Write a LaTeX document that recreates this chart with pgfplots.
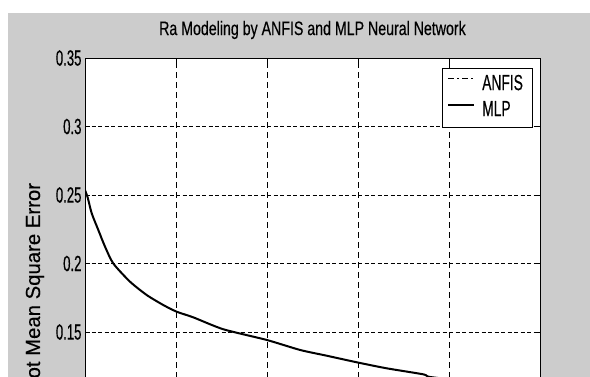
\documentclass[border=0pt]{standalone}
\usepackage{fontspec}
\setmainfont{Liberation Sans}[FakeBold=0.3]
\newfontfamily\titlefont{Liberation Sans}[FakeStretch=0.73, FakeBold=0.4]
\newfontfamily\tickfont{Liberation Sans}[FakeStretch=0.6, FakeBold=0.4]
\newfontfamily\legfont{Liberation Sans}[FakeStretch=0.63, FakeBold=0.4]
\usepackage{pgfplots}
\pgfplotsset{compat=1.18}
\definecolor{figgray}{RGB}{204,204,204}

\begin{document}
\begin{tikzpicture}
% figure window: white margin, grey figure background
\useasboundingbox (0,0) rectangle (590bp,-377bp);
\clip (0,0) rectangle (590bp,-377bp);
\fill[white] (0,0) rectangle (590bp,-377bp);
\fill[figgray] (8bp,-13bp) rectangle (590bp,-377bp);
\begin{axis}[
  at={(85bp,-537.5bp)}, anchor=south west,
  scale only axis, width=455bp, height=479.5bp,
  xmin=0, xmax=500, ymin=0, ymax=0.35,
  xtick={0,100,200,300,400,500},
  xticklabels={},
  ytick={0,0.05,0.1,0.15,0.2,0.25,0.3,0.35},
  yticklabels={,,,0.15,0.2,0.25,0.3,0.35},
  axis background/.style={fill=white},
  axis line style={black, line width=0.8bp},
  tick align=inside, tick pos=both, major tick length=5bp,
  tick style={black, line width=0.8bp},
  grid=major,
  x grid style={black, line width=0.8bp, dash pattern=on 6bp off 4bp},
  y grid style={black, line width=0.8bp, dash pattern=on 4bp off 2.5bp},
  ticklabel style={font=\tickfont\fontsize{22}{22}\selectfont},
  title={Ra Modeling by ANFIS and MLP Neural Network},
  title style={font=\titlefont\fontsize{19.5}{20}\selectfont,
    at={(0.5,1)}, anchor=base, yshift=17bp},
  ylabel={Root Mean Square Error},
  ylabel style={font=\fontsize{20.4}{21}\selectfont,
    at={(axis description cs:-0.1099,0.5085)}, anchor=center},
  legend style={at={(1,1)}, anchor=north east, xshift=-7.7bp, yshift=-9.7bp,
    draw=black, line width=0.8bp, fill=white,
    font=\legfont\fontsize{22}{22}\selectfont,
    inner xsep=5bp, inner ysep=4bp, row sep=1bp, column sep=3bp,
    nodes={inner xsep=4bp, inner ysep=3bp, text height=15bp, text depth=4bp}},
  legend cell align=left,
  legend image code/.code={\draw[#1] (0bp,6bp) -- (26bp,6bp);},
]
\addlegendimage{black, line width=1.6bp, dash pattern=on 6bp off 3bp on 2bp off 3bp}
\addlegendentry{ANFIS}
% MLP training error
\addplot[black, line width=2bp, line join=round, smooth, tension=0.4] coordinates {
  (0,0.2536) (3,0.2480) (7.4,0.2366) (14.6,0.2245) (22,0.2123)
  (31.1,0.2000) (49.5,0.1867) (67.8,0.1770) (86.0,0.1697)
  (100.8,0.1648) (119.0,0.1607) (152.0,0.1520) (199.7,0.1442)
  (236.3,0.1369) (265.6,0.1327) (298.6,0.1279) (331.5,0.1235)
  (371.8,0.1191) (379,0.1172) (420,0.1140) (460,0.1110) (500,0.1085)
};
\addlegendentry{MLP}
\end{axis}
\end{tikzpicture}
\end{document}
